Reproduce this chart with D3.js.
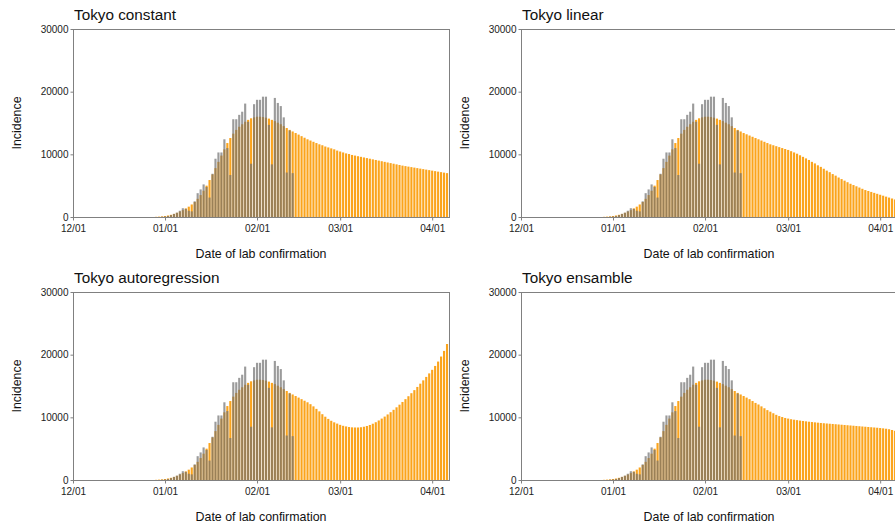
<!DOCTYPE html>
<html>
<head>
<meta charset="utf-8">
<script src="https://cdn.jsdelivr.net/npm/d3@7"></script>
<style>
  body { margin: 0; background: #fff; }
  svg { display: block; font-family: "Liberation Sans", Arial, Helvetica, sans-serif; }
</style>
</head>
<body>
<div id="chart"></div>
<script>
// panel titles, in drawing order (top-left, top-right, bottom-left, bottom-right)
const titles = ['Tokyo constant', 'Tokyo linear', 'Tokyo autoregression', 'Tokyo ensamble']

// observed daily incidence, from 2021-12-31
const observedStart = new Date(2021, 11, 31)
const observed = [40, 80, 150, 300, 500, 700, 1000, 1400, 1300, 1000, 900, 2500, 3800, 4400, 5200,
  4800, 3100, 6900, 9300, 10300, 10300, 12400, 11000, 6700, 15600, 15600, 16300, 16800, 18100,
  15200, 8500, 18000, 18700, 18700, 19200, 19200, 14700, 8400, 19000, 18200, 17700, 15900,
  7100, 13800, 7000]

// fitted incidence (same in all panels), from 2021-12-29 to 2022-02-13
const fittedStart = new Date(2021, 11, 29)
const fitted = [30, 60, 100, 160, 240, 350, 490, 660, 870, 1100, 1370, 1650, 2000, 2400, 2900,
  3500, 4200, 5000, 5900, 6800, 7800, 8800, 9800, 10800, 11800, 12600, 13300, 13900, 14400,
  14800, 15200, 15500, 15750, 15900, 16000, 16000, 15950, 15850, 15700, 15500, 15300, 15050,
  14800, 14500, 14200, 13900, 13650]

// projections, from 2022-02-14 to 2022-04-06
const projStart = new Date(2022, 1, 14)
const projConstant = [13400, 13150, 12900, 12650, 12400, 12200, 12000, 11800, 11600, 11450, 11250,
  11100, 10950, 10800, 10600, 10450, 10300, 10150, 10050, 9900, 9800, 9700, 9600, 9500, 9400,
  9300, 9200, 9100, 9000, 8900, 8800, 8700, 8600, 8500, 8400, 8300, 8200, 8120, 8040, 7960,
  7880, 7800, 7720, 7640, 7560, 7480, 7400, 7320, 7240, 7160, 7080, 7000]
const projLinear = [13400, 13200, 13000, 12800, 12600, 12400, 12200, 12000, 11800, 11600, 11450,
  11300, 11150, 11000, 10850, 10700, 10500, 10300, 10100, 9850, 9600, 9350, 9100, 8800, 8550,
  8250, 8000, 7700, 7400, 7150, 6850, 6600, 6300, 6050, 5800, 5550, 5300, 5100, 4900, 4700,
  4500, 4300, 4150, 4000, 3850, 3700, 3550, 3400, 3250, 3100, 2950, 2800]
const projAutoreg = [13400, 13150, 12900, 12650, 12400, 12100, 11750, 11350, 10950, 10500, 10100,
  9750, 9450, 9200, 9000, 8800, 8650, 8550, 8450, 8400, 8380, 8380, 8420, 8500, 8620, 8780,
  8980, 9220, 9500, 9800, 10120, 10460, 10820, 11200, 11600, 12020, 12450, 12900, 13370, 13850,
  14340, 14850, 15370, 15900, 16450, 17010, 17580, 18200, 18900, 19700, 20600, 21700]
const projEnsemble = [13400, 13150, 12900, 12600, 12300, 12050, 11750, 11450, 11150, 10900, 10650,
  10400, 10200, 10050, 9900, 9800, 9700, 9620, 9550, 9480, 9420, 9360, 9300, 9250, 9200, 9150,
  9100, 9060, 9020, 8980, 8940, 8900, 8860, 8820, 8780, 8740, 8700, 8660, 8620, 8580, 8540,
  8500, 8460, 8420, 8380, 8340, 8290, 8240, 8180, 8100, 7980, 7850]
const projections = [projConstant, projLinear, projAutoreg, projEnsemble]

const xTicks = [new Date(2021, 11, 1), new Date(2022, 0, 1), new Date(2022, 1, 1), new Date(2022, 2, 1), new Date(2022, 3, 1)]
const yTicks = [0, 10000, 20000, 30000]

const W = 895, H = 524
const plotW = 376, plotH = 188
const origins = [[73, 29], [521, 29], [73, 292], [521, 292]]

const svg = d3.select('#chart').append('svg')
  .attr('width', W)
  .attr('height', H)

const x = d3.scaleTime()
  .domain([new Date(2021, 11, 1), new Date(2022, 3, 6, 16)])
  .range([0, plotW])
const y = d3.scaleLinear().domain([0, 30000]).range([plotH, 0])

const dayW = x(new Date(2022, 0, 2)) - x(new Date(2022, 0, 1))
const bw = dayW * 0.72

function series(start, vals) {
  return vals.map((v, i) => ({ date: d3.timeDay.offset(start, i), v: v }))
}

const fittedData = series(fittedStart, fitted)
const observedData = series(observedStart, observed)

titles.forEach((title, p) => {
  const [ox, oy] = origins[p]
  const g = svg.append('g').attr('transform', `translate(${ox},${oy})`)

  g.append('clipPath').attr('id', 'clip' + p)
    .append('rect').attr('width', plotW).attr('height', plotH)

  const bars = g.append('g').attr('clip-path', `url(#clip${p})`)
  const orange = fittedData.concat(series(projStart, projections[p]))

  bars.selectAll('rect.fit')
    .data(orange)
    .enter().append('rect')
      .attr('class', 'fit')
      .attr('x', d => x(d.date) - bw / 2)
      .attr('y', d => y(d.v))
      .attr('width', bw)
      .attr('height', d => y(0) - y(d.v))
      .attr('fill', '#fba41c')

  bars.selectAll('rect.obs')
    .data(observedData)
    .enter().append('rect')
      .attr('class', 'obs')
      .attr('x', d => x(d.date) - bw / 2)
      .attr('y', d => y(d.v))
      .attr('width', bw)
      .attr('height', d => y(0) - y(d.v))
      .attr('fill', '#707070')
      .attr('fill-opacity', 0.7)

  // frame
  g.append('rect')
    .attr('x', 0.5).attr('y', 0.5)
    .attr('width', plotW).attr('height', plotH)
    .attr('fill', 'none')
    .attr('stroke', '#808080')
    .attr('stroke-width', 1)

  const xAxis = g.append('g')
    .attr('transform', `translate(0,${plotH + 0.5})`)
    .call(d3.axisBottom(x).tickValues(xTicks).tickFormat(d3.timeFormat('%m/%d'))
      .tickSize(3).tickSizeOuter(0).tickPadding(4))
  const yAxis = g.append('g')
    .attr('transform', 'translate(0.5,0)')
    .call(d3.axisLeft(y).tickValues(yTicks).tickFormat(d3.format('d'))
      .tickSize(3).tickSizeOuter(0).tickPadding(2))

  ;[xAxis, yAxis].forEach(a => {
    a.select('.domain').remove()
    a.selectAll('line').attr('stroke', '#808080')
    a.selectAll('text').attr('fill', '#222').style('font-size', '10px')
  })

  g.append('text')
    .attr('x', 1).attr('y', -9.5)
    .style('font-size', '15.3px')
    .attr('fill', '#111')
    .text(title)

  g.append('text')
    .attr('x', plotW / 2).attr('y', plotH + 41)
    .attr('text-anchor', 'middle')
    .style('font-size', '12.4px')
    .attr('fill', '#111')
    .text('Date of lab confirmation')

  g.append('text')
    .attr('transform', `translate(-52,${plotH / 2}) rotate(-90)`)
    .attr('text-anchor', 'middle')
    .style('font-size', '12.4px')
    .attr('fill', '#111')
    .text('Incidence')
})
</script>
</body>
</html>
